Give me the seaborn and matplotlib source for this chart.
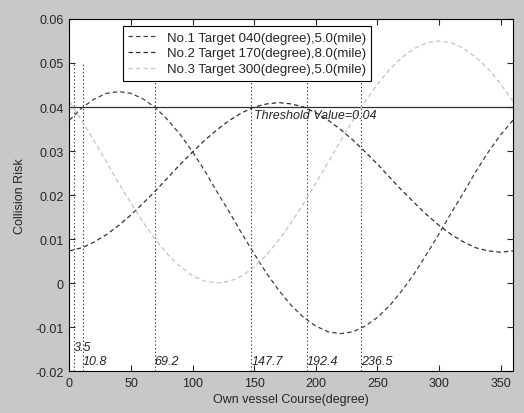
import numpy as np
import pandas as pd
import matplotlib
matplotlib.use("Agg")
import matplotlib.pyplot as plt
import seaborn as sns

# course of own vessel (degree), read every 10 degrees
course = list(range(0, 361, 10))

# collision risk
risk_1 = [0.0370, 0.0398, 0.0418, 0.0431, 0.0435, 0.0431, 0.0418, 0.0398, 0.0370, 0.0337,
          0.0298, 0.0254, 0.0206, 0.0160, 0.0112, 0.0066, 0.0022, -0.0017, -0.0051, -0.0078,
          -0.0098, -0.0111, -0.0115, -0.0111, -0.0098, -0.0078, -0.0051, -0.0017, 0.0022, 0.0066,
          0.0112, 0.0160, 0.0206, 0.0254, 0.0298, 0.0337, 0.0370]
risk_2 = [0.0073, 0.0080, 0.0093, 0.0110, 0.0131, 0.0155, 0.0182, 0.0210, 0.0240, 0.0270,
          0.0298, 0.0325, 0.0349, 0.0370, 0.0387, 0.0400, 0.0407, 0.0410, 0.0407, 0.0400,
          0.0387, 0.0370, 0.0349, 0.0325, 0.0298, 0.0270, 0.0240, 0.0210, 0.0182, 0.0155,
          0.0131, 0.0110, 0.0093, 0.0080, 0.0073, 0.0070, 0.0073]
risk_3 = [0.0412, 0.0369, 0.0323, 0.0275, 0.0227, 0.0181, 0.0137, 0.0098, 0.0064, 0.0037,
          0.0016, 0.0004, 0.0000, 0.0004, 0.0016, 0.0037, 0.0064, 0.0098, 0.0137, 0.0181,
          0.0227, 0.0275, 0.0323, 0.0369, 0.0413, 0.0452, 0.0486, 0.0513, 0.0533, 0.0546,
          0.0550, 0.0546, 0.0533, 0.0513, 0.0486, 0.0452, 0.0413]

labels = ['No.1 Target 040(degree),5.0(mile)',
          'No.2 Target 170(degree),8.0(mile)',
          'No.3 Target 300(degree),5.0(mile)']
colors = ['#404040', '#303030', '#c4c4c4']

threshold = 0.04
crossings = [3.5, 10.8, 69.2, 147.7, 192.4, 236.5]
crossing_text = ['3.5', '10.8', '69.2', '147.7', '192.4', '236.5']

sns.set_style('ticks')
plt.rcParams['font.family'] = ['Liberation Sans', 'DejaVu Sans']
plt.rcParams['lines.scale_dashes'] = False

fig = plt.figure(figsize=(5.24, 4.14), dpi=100, facecolor='#c8c8c8')
ax = fig.add_axes([0.1326, 0.1014, 0.8464, 0.8503])
ax.set_facecolor('white')

df = pd.DataFrame({'course': course * 3,
                   'risk': risk_1 + risk_2 + risk_3,
                   'target': [labels[0]] * len(course) + [labels[1]] * len(course) + [labels[2]] * len(course)})
sns.lineplot(data=df, x='course', y='risk', hue='target', palette=colors,
             style='target', dashes=[(3.2, 2.2)] * 3, linewidth=0.9, ax=ax)

# threshold line and crossing markers
ax.axhline(threshold, color='#303030', linewidth=0.9, zorder=1)
for c in crossings:
    ax.plot([c, c], [-0.02, 0.05], color='#404040', linestyle=':', linewidth=0.8, zorder=1)
ax.text(150, 0.0382, 'Threshold Value=0.04', fontsize=9, style='italic', va='center')
ax.text(crossings[0], -0.0146, crossing_text[0], fontsize=9, style='italic', va='center')
for c, t in zip(crossings[1:], crossing_text[1:]):
    ax.text(c, -0.0178, t, fontsize=9, style='italic', va='center')

ax.set_xlim(0, 360)
ax.set_ylim(-0.02, 0.06)
ax.set_xticks(range(0, 351, 50))
ax.set_yticks(np.arange(-0.02, 0.061, 0.01))
ax.set_yticklabels(['-0.02', '-0.01', '0', '0.01', '0.02', '0.03', '0.04', '0.05', '0.06'])
ax.tick_params(direction='in', top=True, right=True, length=4, labelsize=9, width=0.8, pad=4)
for s in ax.spines.values():
    s.set_visible(True)
    s.set_color('black')
    s.set_linewidth(0.8)

ax.set_xlabel('Own vessel Course(degree)', fontsize=9, labelpad=3)
ax.set_ylabel('Collision Risk', fontsize=9, labelpad=7)

leg = ax.legend(loc='upper left', bbox_to_anchor=(0.121, 0.98), fontsize=9.5,
                frameon=True, fancybox=False, framealpha=1, edgecolor='black',
                handlelength=2.0, handletextpad=0.9, borderpad=0.4, labelspacing=0.28,
                borderaxespad=0)
leg.get_frame().set_linewidth(0.8)

fig.savefig('out.png', dpi=100, facecolor=fig.get_facecolor())
